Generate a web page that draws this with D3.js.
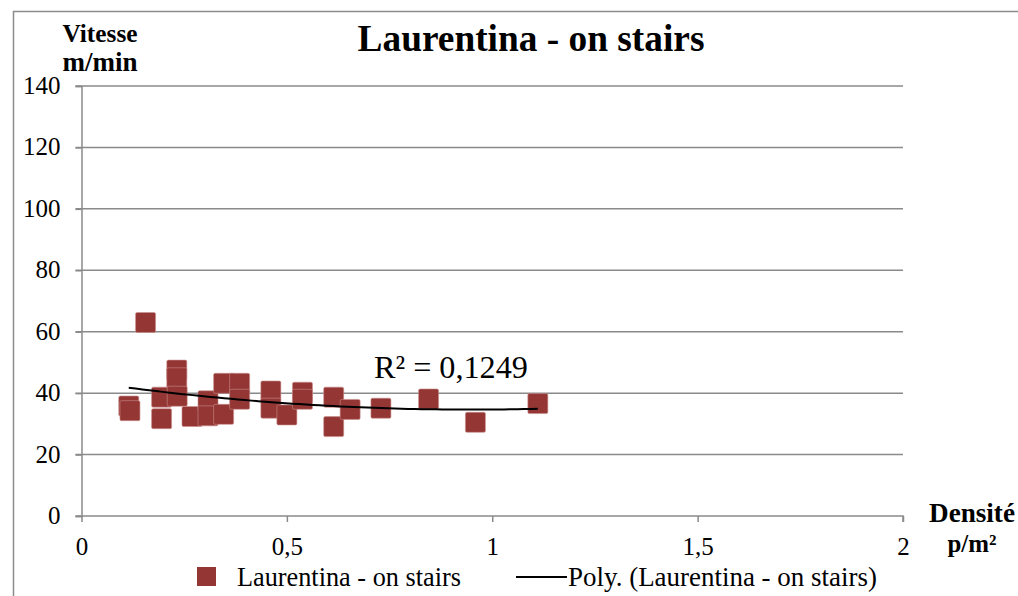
<!DOCTYPE html>
<html>
<head>
<meta charset="utf-8">
<script src="https://cdn.jsdelivr.net/npm/d3@7"></script>
</head>
<body style="margin:0; background:#fff">
<div id="chart"></div>
<script>
// values
const density = [0.115, 0.118, 0.156, 0.232, 0.232, 0.195, 0.233, 0.195, 0.269, 0.308, 0.308,
    0.346, 0.346, 0.385, 0.385, 0.461, 0.461, 0.50, 0.538, 0.538, 0.614, 0.614, 0.654,
    0.729, 0.845, 0.959, 1.111];
const speed = [35.8, 34.3, 63.0, 47.5, 45.0, 38.7, 39.0, 31.7, 32.4, 37.5, 32.6,
    43.2, 33.1, 43.2, 38.0, 40.7, 35.1, 32.9, 40.3, 38.0, 38.7, 29.1, 34.7,
    35.1, 38.1, 30.5, 36.6];
const xTicks = [0, 0.5, 1, 1.5, 2];
const yTicks = [0, 20, 40, 60, 80, 100, 120, 140];
const seriesName = 'Laurentina - on stairs';
const r2Label = 'R² = 0,1249';

const SERIF = "'Liberation Serif'";

const fmt = {
    width: 1018, height: 596,
    margins: { left: 81.5, right: 115, top: 86, bottom: 80 },
    color: '#943634',
    grid: '#8a8a8a'
};

const data = density.map((d, i) => ({ x: d, y: speed[i] }));

// least squares order 2 (Excel "Poly." trendline)
function polyFit(pts) {
    let s = [0, 0, 0, 0, 0], t = [0, 0, 0];
    pts.forEach((p) => {
        for (let k = 0; k < 5; k++) s[k] += Math.pow(p.x, k);
        for (let k = 0; k < 3; k++) t[k] += Math.pow(p.x, k) * p.y;
    });
    let m = [[s[0], s[1], s[2], t[0]], [s[1], s[2], s[3], t[1]], [s[2], s[3], s[4], t[2]]];
    for (let i = 0; i < 3; i++) {
        for (let j = i + 1; j < 3; j++) {
            let f = m[j][i] / m[i][i];
            for (let k = i; k < 4; k++) m[j][k] -= f * m[i][k];
        }
    }
    let c = [0, 0, 0];
    for (let i = 2; i >= 0; i--) {
        let v = m[i][3];
        for (let k = i + 1; k < 3; k++) v -= m[i][k] * c[k];
        c[i] = v / m[i][i];
    }
    return c;
}
const coef = polyFit(data);
const xmin = d3.min(density), xmax = d3.max(density);
const trend = d3.range(0, 61).map((i) => {
    let x = xmin + (xmax - xmin) * i / 60;
    return { x: x, y: coef[0] + coef[1] * x + coef[2] * x * x };
});

// shrink/grow a text so it spans the given width
function fitWidth(sel, w) {
    let size = parseFloat(sel.style('font-size'));
    let len = sel.node().getComputedTextLength();
    sel.style('font-size', (size * w / len) + 'px');
    return sel;
}

function label(parent, txt, px, py, size, bold, anchor) {
    return parent.append('text')
        .attr('x', px).attr('y', py)
        .attr('text-anchor', anchor || 'start')
        .style('font-family', SERIF)
        .style('font-size', size + 'px')
        .style('font-weight', bold ? 'bold' : 'normal')
        .attr('fill', '#000')
        .text(txt);
}

const width = fmt.width - fmt.margins.left - fmt.margins.right,
    height = fmt.height - fmt.margins.top - fmt.margins.bottom;

const x = d3.scaleLinear().domain([0, 2]).range([0, width]),
    y = d3.scaleLinear().domain([0, 140]).range([height, 0]);

let svg = d3.select('#chart').append('svg')
    .attr('width', fmt.width)
    .attr('height', fmt.height);

// chart border
svg.append('rect')
    .attr('x', 13.5).attr('y', 11.5)
    .attr('width', fmt.width + 10).attr('height', fmt.height + 10)
    .attr('fill', 'none')
    .attr('stroke', '#8c8c8c')
    .attr('stroke-width', 1.5);

let g = svg.append('g')
    .attr('transform', 'translate(' + fmt.margins.left + ',' + fmt.margins.top + ')');

// horizontal grid
g.selectAll('.grid')
    .data(yTicks.slice(1))
    .enter().append('line')
    .attr('x1', -6).attr('x2', width)
    .attr('y1', (d) => y(d)).attr('y2', (d) => y(d))
    .attr('stroke', fmt.grid)
    .attr('stroke-width', 1.5);

let left = g.append('g')
    .call(d3.axisLeft(y).tickValues(yTicks).tickSize(6).tickPadding(15)
        .tickFormat((d) => d));
left.select('.domain').attr('stroke', fmt.grid).attr('stroke-width', 1.5);
left.selectAll('.tick line').attr('stroke', fmt.grid).attr('stroke-width', 1.5);
left.selectAll('.tick text')
    .style('font-family', SERIF)
    .style('font-size', '25px').attr('fill', '#000').attr('dy', '0.3em');

let bottom = g.append('g')
    .attr('transform', 'translate(0,' + height + ')')
    .call(d3.axisBottom(x).tickValues(xTicks).tickSize(6).tickPadding(15)
        .tickFormat((d) => String(d).replace('.', ',')));
bottom.select('.domain').attr('stroke', fmt.grid).attr('stroke-width', 1.5)
    .attr('d', 'M-6,0H' + width + 'V6');
bottom.selectAll('.tick line').attr('stroke', fmt.grid).attr('stroke-width', 1.5);
bottom.selectAll('.tick text')
    .style('font-family', SERIF)
    .style('font-size', '25px').attr('fill', '#000');

// markers
g.selectAll('.pt')
    .data(data)
    .enter().append('rect')
    .attr('x', (d) => x(d.x) - 10)
    .attr('y', (d) => y(d.y) - 10)
    .attr('width', 20).attr('height', 20)
    .attr('rx', 1.5)
    .attr('fill', fmt.color)
    .attr('stroke', '#c98f8d')
    .attr('stroke-width', 0.6);

// trendline
g.append('path').datum(trend)
    .attr('fill', 'none')
    .attr('stroke', '#000')
    .attr('stroke-width', 2)
    .attr('d', d3.line().x((d) => x(d.x)).y((d) => y(d.y)));

fitWidth(label(svg, r2Label, 374, 378, 26, false), 154);

// titles
fitWidth(label(svg, seriesName, 531, 51, 38, true, 'middle'), 347);

fitWidth(label(svg, 'Vitesse', 100, 42, 23, true, 'middle'), 75);
fitWidth(label(svg, 'm/min', 100, 71, 23, true, 'middle'), 75);

fitWidth(label(svg, 'Densité', 972, 522, 23, true, 'middle'), 86);
fitWidth(label(svg, 'p/m²', 972, 552, 23, true, 'middle'), 49);

// legend
let lg = svg.append('g').attr('transform', 'translate(197,577)');
lg.append('rect')
    .attr('x', 0).attr('y', -10)
    .attr('width', 19).attr('height', 19)
    .attr('fill', fmt.color);
fitWidth(label(lg, seriesName, 40, 9, 23, false), 224);
lg.append('line')
    .attr('x1', 319).attr('x2', 370)
    .attr('y1', 0).attr('y2', 0)
    .attr('stroke', '#000').attr('stroke-width', 2);
fitWidth(label(lg, 'Poly. (' + seriesName + ')', 371, 9, 23, false), 309);
</script>
</body>
</html>
